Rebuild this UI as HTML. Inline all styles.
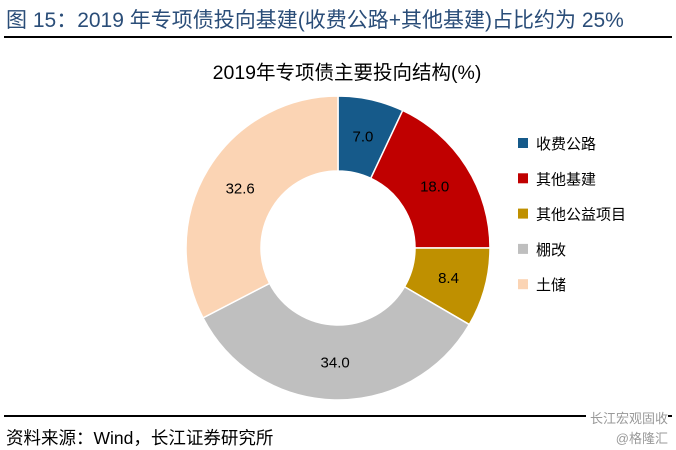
<!DOCTYPE html>
<html><head><meta charset="utf-8"><style>
body{margin:0;width:676px;height:450px;background:#fff;overflow:hidden;font-family:"Liberation Sans","Noto Sans CJK SC",sans-serif;}
.t{position:absolute;left:6px;top:4px;font-size:21px;color:#2a4d78;white-space:nowrap;}
.hl{position:absolute;left:4px;width:668px;height:2px;background:#000}
.src{position:absolute;left:6px;top:425px;font-size:17.5px;color:#000;white-space:nowrap}
.wm{position:absolute;right:8px;font-size:13px;color:#999}
</style></head><body>
<div class="t">图 15：2019 年专项债投向基建(收费公路+其他基建)占比约为 25%</div>
<div class="hl" style="top:36px"></div>
<div class="hl" style="top:415px;height:1.5px"></div>
<div class="src">资料来源：Wind，长江证券研究所</div>
<div class="wm" style="top:408px;background:#fff;padding-left:4px">长江宏观固收</div>
<div class="wm" style="top:428px">@格隆汇</div>
<svg id="c" width="676" height="450" style="position:absolute;left:0;top:0">
<text x="347" y="79" text-anchor="middle" font-size="19.5" font-family="Liberation Sans, Noto Sans CJK SC, sans-serif">2019年专项债主要投向结构(%)</text>
</svg>
<script>
const categories=["收费公路","其他基建","其他公益项目","棚改","土储"];
const values=[7.0,18.0,8.4,34.0,32.6];
const colors=["#165a8a","#c00000","#bf9000","#bfbfbf","#fbd4b4"];
const svg=document.getElementById('c');
const NS="http://www.w3.org/2000/svg";
const cx=338,cy=248,R=152,r=77;
const total=values.reduce((a,b)=>a+b,0);
function pt(rad,a){return [cx+rad*Math.sin(a),cy-rad*Math.cos(a)];}
let acc=0;
values.forEach((v,i)=>{
 const a0=acc/total*2*Math.PI;acc+=v;const a1=acc/total*2*Math.PI;
 const lg=(a1-a0)>Math.PI?1:0;
 const [x0,y0]=pt(R,a0),[x1,y1]=pt(R,a1),[x2,y2]=pt(r,a1),[x3,y3]=pt(r,a0);
 const p=document.createElementNS(NS,'path');
 p.setAttribute('d',`M${x0},${y0}A${R},${R} 0 ${lg} 1 ${x1},${y1}L${x2},${y2}A${r},${r} 0 ${lg} 0 ${x3},${y3}Z`);
 p.setAttribute('fill',colors[i]);p.setAttribute('stroke','#fff');p.setAttribute('stroke-width','1.5');
 
 
 svg.appendChild(p);
 const [lx,ly]=pt((R+r)/2,(a0+a1)/2);
 const t=document.createElementNS(NS,'text');
 t.setAttribute('x',lx);t.setAttribute('y',ly+5);t.setAttribute('text-anchor','middle');
 t.setAttribute('font-size','15');t.setAttribute('font-family','Liberation Sans, sans-serif');
 t.textContent=v.toFixed(1);
 
 
 svg.appendChild(t);
 const ry=143+i*35.3;
 const s=document.createElementNS(NS,'rect');
 s.setAttribute('x',518);s.setAttribute('y',ry-5);s.setAttribute('width',10);s.setAttribute('height',10);s.setAttribute('fill',colors[i]);
 
 
 svg.appendChild(s);
 const lt=document.createElementNS(NS,'text');
 lt.setAttribute('x',536);lt.setAttribute('y',ry+6);lt.setAttribute('font-size','15');
 lt.setAttribute('font-family','Liberation Sans, Noto Sans CJK SC, sans-serif');
 lt.textContent=categories[i];
 
 
 svg.appendChild(lt);
});
</script>
</body></html>
